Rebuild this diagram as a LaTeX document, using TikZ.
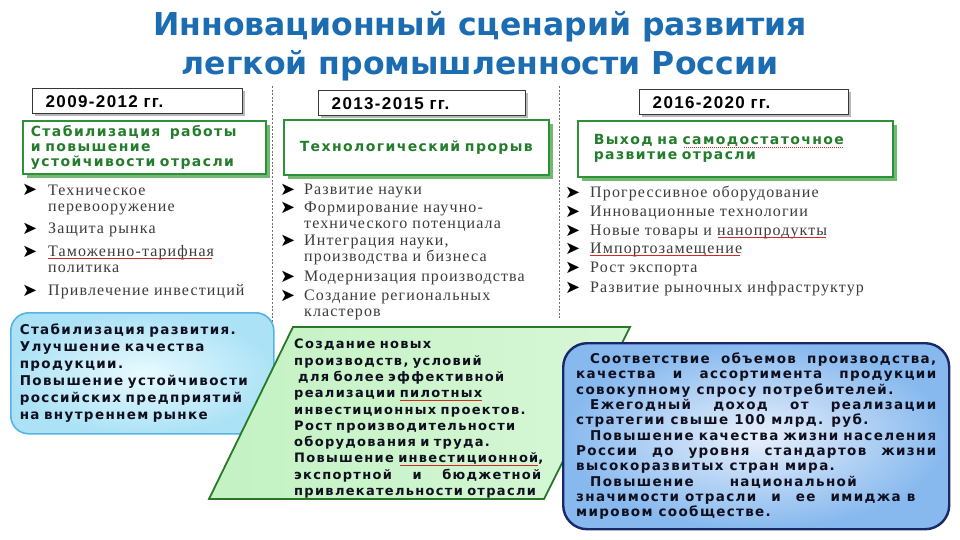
\documentclass[tikz,border=0pt]{standalone}
\usepackage{fontspec}
\setmainfont{Liberation Serif}
\newfontfamily\titlefont{DejaVu Sans}
\newfontfamily\boxfont[LetterSpace=10]{DejaVu Sans}
\newfontfamily\yearfont[LetterSpace=8]{Liberation Sans}
\newfontfamily\listfont[LetterSpace=7]{Liberation Serif}
\newfontfamily\symfont{DejaVu Sans}
\usetikzlibrary{shadows}
\definecolor{titleblue}{RGB}{28,108,178}
\definecolor{yearline}{RGB}{55,55,55}
\definecolor{gtext}{RGB}{35,125,45}
\definecolor{gborder}{RGB}{45,145,55}
\definecolor{gshadow}{RGB}{115,185,115}
\definecolor{listgray}{RGB}{60,60,60}
\definecolor{sepgray}{RGB}{110,110,110}
\definecolor{cyanline}{RGB}{85,180,230}
\definecolor{cyaninner}{RGB}{232,250,254}
\definecolor{cyanouter}{RGB}{172,226,246}
\definecolor{pborder}{RGB}{40,120,40}
\definecolor{pleft}{RGB}{195,242,195}
\definecolor{pright}{RGB}{215,247,215}
\definecolor{navy}{RGB}{25,40,105}
\definecolor{blueinner}{RGB}{232,240,252}
\definecolor{blueouter}{RGB}{135,185,238}
\definecolor{boxtext}{RGB}{15,15,30}
\definecolor{spellred}{RGB}{215,40,40}
\newlength\spelllen
\newcommand\spellw[1]{\settowidth{\spelllen}{#1}\rlap{#1}{\color{spellred}\leaders\hbox{\rule[-0.35ex]{1.4pt}{0.7pt}\kern0.6pt}\hskip\spelllen}}
\begin{document}
\begin{tikzpicture}[x=1pt,y=-1pt,
  title/.style={font=\titlefont\bfseries\fontsize{31.5}{36}\selectfont, text=titleblue, inner sep=0pt, anchor=base},
  yearbox/.style={draw=yearline, line width=1.4pt, fill=white, anchor=north west, inner xsep=13pt, inner ysep=0pt,
    minimum height=25pt, align=left, font=\yearfont\bfseries\fontsize{17}{19}\selectfont,
    drop shadow={shadow xshift=2pt, shadow yshift=-2pt, fill=gray!55, opacity=1}},
  gbox/.style={draw=gborder, line width=1.6pt, fill=white, anchor=north west, inner xsep=8pt, inner ysep=0pt,
    font=\boxfont\bfseries\fontsize{14}{15}\selectfont, text=gtext,
    drop shadow={shadow xshift=4pt, shadow yshift=-4pt, fill=gshadow, opacity=1}},
  sepline/.style={draw=sepgray, line width=1pt, dash pattern=on 2pt off 1.6pt},
  arrowb/.style={font=\symfont\fontsize{18}{18}\selectfont, anchor=base west, inner sep=0pt, text=black},
  itm/.style={font=\listfont\fontsize{16}{16.5}\selectfont, text=listgray, anchor=base west, inner sep=0pt, align=left},
  cyanbox/.style={draw=cyanline, line width=1.6pt, rounded corners=18pt, inner color=cyaninner, outer color=cyanouter,
    anchor=north west, minimum height=121pt, text width=245pt, inner xsep=9pt, inner ysep=0pt, align=left,
    font=\boxfont\bfseries\fontsize{13.5}{17}\selectfont, text=boxtext},
  para/.style={draw=pborder, line width=1.8pt, left color=pleft, right color=pright},
  ptext/.style={anchor=north west, inner sep=0pt, align=left, text width=250pt,
    font=\boxfont\bfseries\fontsize{13}{16.3}\selectfont, text=boxtext},
  bluebox/.style={draw=navy, line width=2.4pt, rounded corners=24pt, inner color=blueinner, outer color=blueouter,
    anchor=north west, minimum height=186pt, text width=360pt, inner xsep=13pt, inner ysep=0pt, align=justify,
    font=\boxfont\bfseries\fontsize{13.5}{15.3}\selectfont, text=boxtext}
]
\useasboundingbox (0,0) rectangle (960,540);
\fill[white] (0,0) rectangle (960,540);

% title
\node[title] (t1) at (480,36) {Инновационный сценарий развития};
\node[title] (t2) at (480,75) {легкой промышленности России};

% separators
\coordinate (s1a) at (272,86); \coordinate (s1b) at (272,322);
\coordinate (s2a) at (559,86); \coordinate (s2b) at (559,318);
\draw[sepline] (s1a) -- (s1b);
\draw[sepline] (s2a) -- (s2b);

% year boxes
\node[yearbox, text width=184pt] (y1) at (32,88) {2009-2012 гг.};
\node[yearbox, text width=181pt] (y2) at (318,90) {2013-2015 гг.};
\node[yearbox, text width=183pt] (y3) at (639,89) {2016-2020 гг.};

% green boxes
\node[gbox, text width=227pt, minimum height=53pt, align=left] (g1) at (22,120)
  {Стабилизация\ \ работы\\и повышение\\устойчивости отрасли};
\node[gbox, text width=249pt, minimum height=55pt, align=center] (g2) at (283,119)
  {Технологический прорыв};
\node[gbox, text width=283pt, inner xsep=16pt, minimum height=56pt, align=left] (g3) at (577,120)
  {Выход на \spellw{самодостаточное}\\развитие отрасли};

% column 1 list (base = last line)
\node[arrowb] (a11) at (22,196) {➤};
\node[itm] (i11) at (48,211.5) {Техническое\\перевооружение};
\node[arrowb] (a12) at (22,234) {➤};
\node[itm] (i12) at (48,233) {Защита рынка};
\node[arrowb] (a13) at (22,257) {➤};
\node[itm] (i13) at (48,272.5) {\spellw{Таможенно-тарифная}\\политика};
\node[arrowb] (a14) at (22,296) {➤};
\node[itm] (i14) at (48,295) {Привлечение инвестиций};

% column 2 list
\node[arrowb] (a21) at (280,195) {➤};
\node[itm] (i21) at (304,194) {Развитие науки};
\node[arrowb] (a22) at (280,213) {➤};
\node[itm] (i22) at (304,228.5) {Формирование научно-\\технического потенциала};
\node[arrowb] (a23) at (280,246) {➤};
\node[itm] (i23) at (304,261.5) {Интеграция науки,\\производства и бизнеса};
\node[arrowb] (a24) at (280,282) {➤};
\node[itm] (i24) at (304,281) {Модернизация производства};
\node[arrowb] (a25) at (280,301) {➤};
\node[itm] (i25) at (304,316.5) {Создание региональных\\кластеров};

% column 3 list
\node[arrowb] (a31) at (565,198) {➤};
\node[itm] (i31) at (590,197) {Прогрессивное оборудование};
\node[arrowb] (a32) at (565,217) {➤};
\node[itm] (i32) at (590,216) {Инновационные технологии};
\node[arrowb] (a33) at (565,236) {➤};
\node[itm] (i33) at (590,235) {Новые товары и \spellw{нанопродукты}};
\node[arrowb] (a34) at (565,254) {➤};
\node[itm] (i34) at (590,253) {\spellw{Импортозамещение}};
\node[arrowb] (a35) at (565,273) {➤};
\node[itm] (i35) at (590,272) {Рост экспорта};
\node[arrowb] (a36) at (565,293) {➤};
\node[itm] (i36) at (590,292) {Развитие рыночных инфраструктур};

% cyan box
\node[cyanbox] (c1) at (10,312)
  {Стабилизация развития.\\Улучшение качества\\продукции.\\Повышение устойчивости\\российских предприятий\\на внутреннем рынке};

% parallelogram
\path[para] (293,327) -- (630,327) -- (544,499) -- (209,499) -- cycle;
\node[ptext] (p1) at (294,339)
  {Создание новых\\
   производств, условий\\
   \hspace*{4pt}для более эффективной\\
   реализации \spellw{пилотных}\\
   инвестиционных проектов.\\
   Рост производительности\\
   оборудования и труда.\\
   Повышение \spellw{инвестиционной},\\
   \makebox[247pt][l]{экспортной\hfill и\hfill бюджетной}\\
   привлекательности отрасли};

% blue box
\node[bluebox] (b1) at (562,342)
  {\hspace*{14pt}Соответствие объемов производства,\linebreak
   качества и ассортимента продукции\linebreak
   совокупному спросу потребителей.\newline
   \hspace*{14pt}Ежегодный доход от реализации\linebreak
   стратегии свыше 100 млрд. руб.\newline
   \hspace*{14pt}Повышение качества жизни населения\linebreak
   России до уровня стандартов жизни\linebreak
   высокоразвитых стран мира.\newline
   \hspace*{14pt}Повышение\hspace{30pt} национальной\newline
   значимости отрасли\hspace{9pt} и\hspace{9pt} ее\hspace{9pt} имиджа в\newline
   мировом сообществе.};
\end{tikzpicture}
\end{document}
